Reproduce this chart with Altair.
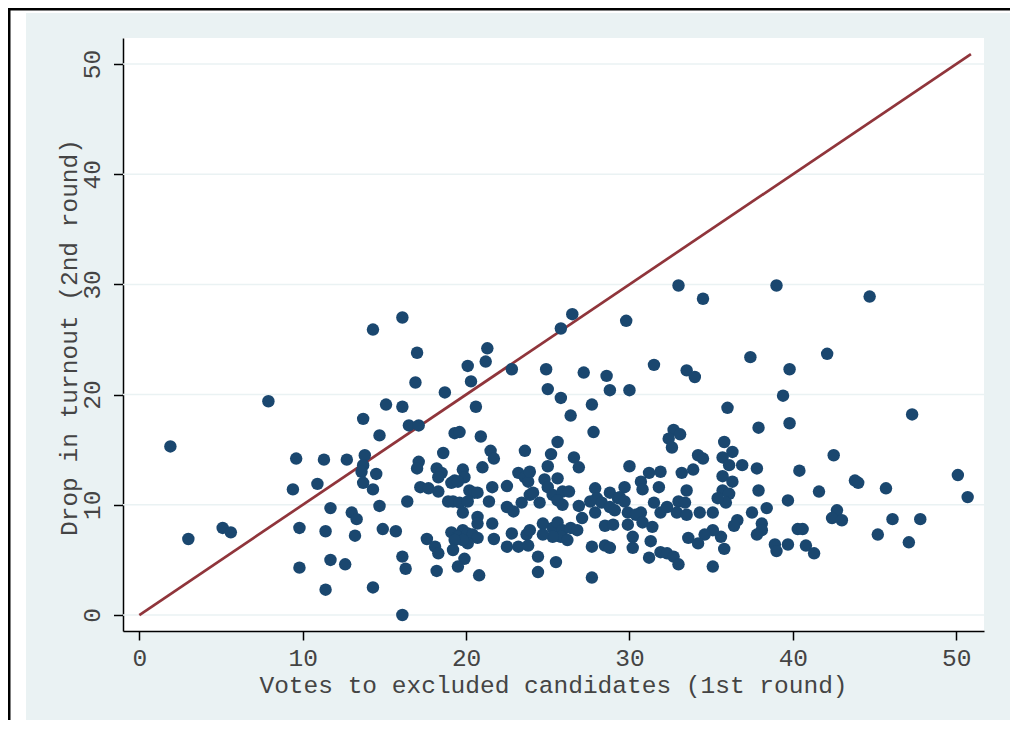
import altair as alt
import pandas as pd

# Votes to excluded candidates (1st round)
votes = [
    1.9, 3.0, 5.1, 5.6, 7.9, 9.6, 9.4, 10.9, 9.8, 9.8, 11.3, 11.7, 11.4, 11.7, 11.4,
    14.3, 16.1, 17.0, 16.9, 18.7, 20.1, 20.3, 21.3, 21.2, 22.8, 15.1, 16.1, 13.7, 16.5, 17.1,
    20.6, 14.7, 19.3, 19.6, 20.9, 21.5, 21.7, 23.6, 18.6, 13.8, 12.7, 17.1,
    13.7, 13.6, 14.5, 13.7, 14.3, 13.0, 13.3, 14.7, 16.4, 13.2, 14.9, 15.7, 12.6, 16.1, 16.3,
    14.3, 16.1, 17.0, 18.2, 18.5, 18.3, 19.8, 19.9, 19.3, 17.2, 17.7, 18.3, 19.1, 19.5, 21.0,
    20.2, 20.5, 20.7, 21.6, 22.5, 23.2, 23.6, 23.8, 18.9, 19.2, 19.6, 20.1, 19.8, 21.4, 20.7,
    20.7, 21.6, 22.5, 22.9, 23.4, 23.9, 19.1, 19.8, 19.5, 20.1, 20.4, 20.7, 20.1, 19.8, 19.3,
    21.7, 22.8, 23.7, 22.5, 23.2, 23.8, 17.6, 18.1, 18.3, 19.2, 19.9, 19.5, 18.2, 20.8,
    33.0, 34.5, 26.5, 25.8, 29.8, 24.9, 27.2, 28.6, 31.5, 33.5, 34.0, 25.0, 28.8, 30.0, 25.8,
    27.7, 26.4, 27.8, 32.7, 33.1, 32.4, 32.6, 25.6, 25.2, 26.6, 34.2, 34.5,
    36.0, 35.8, 36.3, 35.7, 36.1, 35.7, 36.3, 35.7, 36.1, 35.9, 35.4, 35.6, 35.8, 35.1, 35.1, 34.6,
    26.9, 25.0, 23.9, 24.8, 25.6, 25.0, 24.1, 24.5, 25.3, 25.9, 26.3, 25.9, 25.6, 26.9, 27.9,
    27.6, 28.0, 28.3, 27.9, 28.8, 29.3, 28.8, 29.1, 29.7, 29.4, 29.7, 30.0, 31.2, 31.9, 30.7,
    30.8, 31.8, 31.5, 31.9, 32.3, 30.7, 29.9, 33.0, 33.4, 32.9, 33.5, 33.2, 33.9, 33.5, 23.9,
    24.7, 25.3, 25.6, 25.9, 26.4, 25.8, 25.3, 24.7, 26.2, 26.8, 27.1, 24.4, 24.4, 25.5, 27.7,
    28.5, 28.8, 27.7, 28.5, 29.0, 29.9, 30.4, 30.8, 31.4, 30.2, 30.2, 31.2, 31.3, 31.9, 32.3,
    32.7, 33.0, 33.6, 34.2, 34.3, 35.1,
    39.0, 44.7, 37.4, 42.1, 39.8, 39.4, 47.3, 37.9, 39.8, 42.5, 36.9, 37.8, 40.4, 37.9, 43.8,
    44.0, 45.7, 50.1, 50.7, 41.6, 39.7, 38.4, 37.5, 36.6, 36.4, 38.1, 38.1, 37.8, 42.7, 42.4,
    43.0, 46.1, 47.8, 40.3, 40.6, 38.9, 39.0, 39.7, 40.8, 41.3, 45.2, 47.1,
]

# Drop in turnout (2nd round)
drop = [
    15.3, 6.9, 7.9, 7.5, 19.4, 14.2, 11.4, 11.9, 7.9, 4.3, 14.1, 9.7, 7.6, 5.0, 2.3,
    25.9, 27.0, 23.8, 21.1, 20.2, 22.6, 21.2, 24.2, 23.0, 22.3, 19.1, 18.9, 17.8, 17.2, 17.2,
    18.9, 16.3, 16.5, 16.6, 16.2, 14.9, 14.2, 14.9, 14.7, 14.5, 14.1, 13.9,
    13.6, 13.0, 12.8, 12.0, 11.4, 9.3, 8.7, 9.9, 10.3, 7.2, 7.8, 7.6, 4.6, 5.3, 4.2,
    2.5, 0.0, 13.3, 13.3, 12.9, 12.5, 13.2, 12.5, 12.2, 11.6, 11.5, 11.2, 12.0, 12.1, 13.4,
    11.3, 11.1, 11.1, 11.6, 11.7, 12.9, 12.5, 12.1, 10.3, 10.3, 10.2, 10.3, 9.3, 10.3, 8.9,
    8.3, 8.3, 9.8, 9.4, 10.2, 10.9, 7.5, 7.7, 7.1, 7.4, 7.3, 7.0, 6.5, 6.8, 6.8,
    6.9, 7.4, 7.3, 6.2, 6.2, 6.3, 6.9, 6.2, 5.6, 5.9, 5.1, 4.4, 4.0, 3.6,
    29.9, 28.7, 27.3, 26.0, 26.7, 22.3, 22.0, 21.7, 22.7, 22.2, 21.6, 20.5, 20.4, 20.4, 19.7,
    19.1, 18.1, 16.6, 16.8, 16.4, 16.0, 15.2, 15.7, 14.6, 14.3, 14.5, 14.2,
    18.8, 15.7, 14.8, 14.3, 13.6, 12.6, 12.1, 11.3, 11.0, 10.2, 10.6, 7.1, 6.0, 4.4, 7.7, 7.3,
    13.4, 13.5, 13.0, 12.3, 12.4, 11.6, 11.1, 10.2, 10.9, 11.2, 11.2, 10.0, 10.4, 9.9, 11.5,
    10.3, 10.6, 10.2, 9.3, 11.1, 10.6, 9.8, 9.5, 11.6, 10.7, 10.3, 13.5, 12.9, 13.0, 12.1,
    11.4, 11.6, 10.2, 9.3, 9.8, 9.3, 9.3, 10.3, 10.2, 9.3, 9.1, 12.9, 13.2, 11.3, 7.7,
    8.3, 7.9, 8.4, 7.7, 7.9, 7.1, 7.1, 7.3, 6.8, 7.7, 8.8, 5.3, 3.9, 4.8, 6.2,
    6.3, 6.1, 3.4, 8.1, 8.2, 8.2, 9.1, 8.4, 8.0, 7.1, 6.1, 5.2, 6.7, 5.7, 5.6,
    5.3, 4.6, 7.0, 6.5, 9.3, 9.3,
    29.9, 28.9, 23.4, 23.7, 22.3, 19.9, 18.2, 17.0, 17.4, 14.5, 13.6, 13.3, 13.1, 11.3, 12.2,
    12.0, 11.5, 12.7, 10.7, 11.2, 10.4, 9.7, 9.3, 8.6, 8.1, 8.3, 7.7, 7.3, 9.5, 8.8,
    8.6, 8.7, 8.7, 7.8, 7.8, 6.4, 5.8, 6.4, 6.3, 5.6, 7.3, 6.6,
]

line_x = [0, 50.9]
tick_values = [0, 10, 20, 30, 40, 50]

FONT = "Liberation Mono"
TXT = "#444444"
BG = "#EAF2F3"
W, H = 861, 593
PAD_R, PAD_B = 26, 89

pts = pd.DataFrame({"votes": votes, "drop": drop})
ln = pd.DataFrame({"votes": line_x, "drop": line_x})
grid = pd.DataFrame({"drop": tick_values})
one = pd.DataFrame({"a": [0]})

xscale = alt.Scale(domain=[-1.0, 51.7], nice=False, zero=False)
yscale = alt.Scale(domain=[-1.45, 52.36], nice=False, zero=False)

xaxis = alt.Axis(
    values=tick_values, grid=False, tickSize=9, tickWidth=1.5, tickColor="black",
    domainColor="black", domainWidth=1.5, labelFont=FONT, labelFontSize=24.5,
    labelColor=TXT, labelBaseline="alphabetic", labelAlign="center", labelPadding=25,
    labelFlush=False, labelOverlap=False,
    titleFont=FONT, titleFontSize=24.5, titleFontWeight="normal", titleColor=TXT,
    titleX=430, titleY=61, titleAlign="center", titleBaseline="alphabetic",
)
yaxis = alt.Axis(
    values=tick_values, grid=False, tickSize=9.5, tickWidth=1.5, tickColor="black",
    domainColor="black", domainWidth=1.5, labelFont=FONT, labelFontSize=24.5,
    labelColor=TXT, labelAngle=270, labelAlign="center", labelBaseline="alphabetic",
    labelPadding=14, labelFlush=False, labelOverlap=False,
    titleFont=FONT, titleFontSize=24.5, titleFontWeight="normal", titleColor=TXT,
    titleAngle=270, titleX=-47, titleY=299, titleAlign="center", titleBaseline="alphabetic",
)

X = alt.X("votes:Q", scale=xscale, axis=xaxis, title="Votes to excluded candidates (1st round)")
Y = alt.Y("drop:Q", scale=yscale, axis=yaxis, title="Drop in turnout (2nd round)")

# page decoration: white margin strips and black frame (outside the plot area)
margin_left = alt.Chart(one).mark_rect(color="white").encode(
    x=alt.value(-115), x2=alt.value(-97), y=alt.value(-30), y2=alt.value(H + PAD_B))
margin_top = alt.Chart(one).mark_rect(color="white").encode(
    x=alt.value(-115), x2=alt.value(W + PAD_R), y=alt.value(-30), y2=alt.value(-25))
frame_left = alt.Chart(one).mark_rect(color="black").encode(
    x=alt.value(-115), x2=alt.value(-112.5), y=alt.value(-30), y2=alt.value(H + PAD_B))
frame_top = alt.Chart(one).mark_rect(color="black").encode(
    x=alt.value(-115), x2=alt.value(W + PAD_R), y=alt.value(-30), y2=alt.value(-27.5))

gridlines = alt.Chart(grid).mark_rule(color=BG, strokeWidth=1.5).encode(
    y=Y, x=alt.value(0), x2=alt.value(W))

line = alt.Chart(ln).mark_line(color="#90353B", strokeWidth=2.7).encode(x=X, y=Y)

points = alt.Chart(pts).mark_circle(size=155, color="#1A476F", opacity=1).encode(x=X, y=Y)

chart = alt.layer(
    margin_left, margin_top, frame_left, frame_top, gridlines, line, points
).properties(
    width=W, height=H,
    autosize=alt.AutoSizeParams(type="none"),
    padding={"left": 115, "top": 30, "right": PAD_R, "bottom": PAD_B},
    background=BG,
).configure_view(fill="white", stroke=None)

chart.save("out.html", embed_options={"renderer": "svg", "actions": False})
